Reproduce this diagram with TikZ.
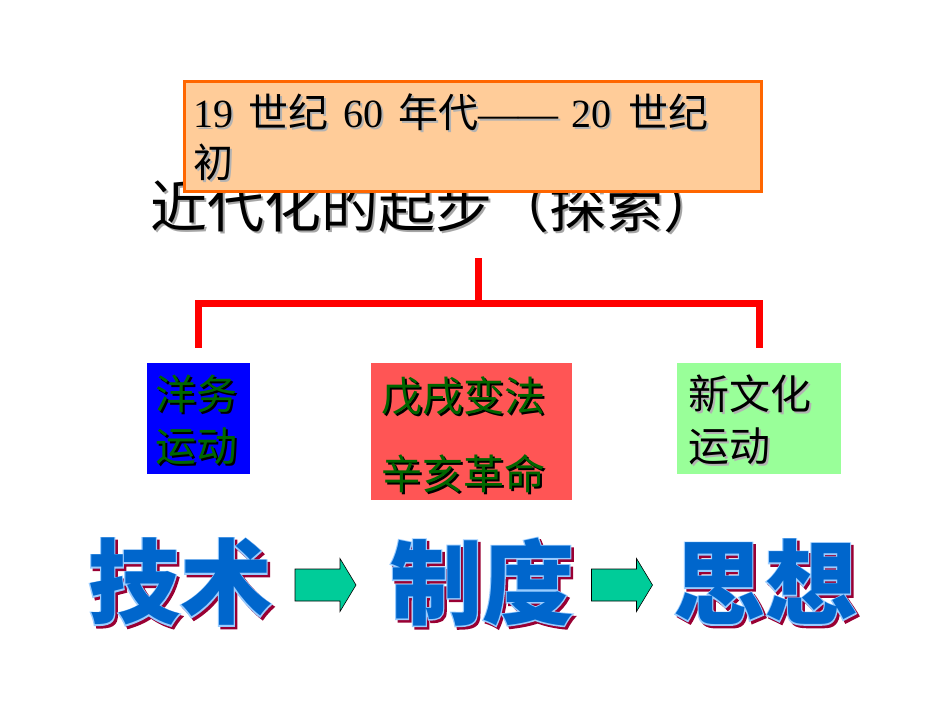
\documentclass[tikz,border=0pt]{standalone}
\usepackage{fontspec}
\setmainfont{Liberation Serif}
\newfontfamily\cjk{Noto Sans CJK SC}
\newfontfamily\cjkol{Noto Sans CJK SC}[FakeBold=2.5]
\usetikzlibrary{positioning}
\definecolor{peach}{HTML}{FFCC99}
\definecolor{edgeorange}{HTML}{FF6600}
\definecolor{boxred}{HTML}{FF5555}
\definecolor{boxgreen}{HTML}{99FF99}
\definecolor{txtgreen}{HTML}{006600}
\definecolor{wblue}{HTML}{0066CC}
\definecolor{wline}{HTML}{99CCFF}
\definecolor{wshade}{HTML}{990033}
\definecolor{arfill}{HTML}{00CC99}
\tikzset{%
   br/.style={
      draw=red,
      line width=7pt
   },
   bx/.style={
      draw=none,
      inner sep=0pt
   },
   ln/.style={
      inner sep=0pt,
      outer sep=0pt,
      anchor=base west
   },
   hd/.style={
      ln,
      font=\cjk\fontsize{57}{62}\selectfont
   },
   era/.style={
      ln,
      font=\fontsize{40}{46}\selectfont
   },
   mv/.style={
      ln,
      font=\cjk\fontsize{41}{48}\selectfont
   },
   big/.style={
      inner sep=0pt,
      font=\cjk\bfseries\fontsize{92}{96}\selectfont
   },
   bigol/.style={
      inner sep=0pt,
      font=\cjkol\bfseries\fontsize{92}{96}\selectfont
   },
   blk/.style={
      draw=black,
      line width=0.6pt,
      fill=arfill,
      line join=miter
   },
}
% text with a soft shadow
\newcommand\shtxt[5]{%
   \node[#2, text=#5] at ([shift={(2pt,-2pt)}]#3) {#4};
   \node[#2] (#1) at (#3) {#4};
}
% outlined word
\newcommand\bigword[3]{%
   \node[bigol, text=wshade] at ([shift={(2.5pt,-2.5pt)}]#2) {#3};
   \node[bigol, text=wline] at (#2) {#3};
   \node[big, text=wblue] (#1) at (#2) {#3};
}
% block arrow round a centre
\newcommand\blkarrow[1]{%
   \draw[blk] (#1) ++(-30.5,-16) -- ++(45,0) -- ++(0,-10.5) -- ++(16,26.5)
      -- ++(-16,26.5) -- ++(0,-10.5) -- ++(-45,0) -- cycle;
}

\begin{document}
\begin{tikzpicture}[x=1pt, y=-1pt]
   \useasboundingbox[fill=white] (0,0) rectangle (950,713);

   % title, partly under the date box
   \coordinate (p0) at (150,227);
   \shtxt{head}{hd}{p0}{近代化的起步（探索）}{black!35}

   % date box
   \node[bx, fill=peach, draw=edgeorange, line width=3pt,
         anchor=north west, minimum width=577pt, minimum height=110pt]
         (datebox) at (183,80) {};
   \coordinate (p1) at (193,127);
   \coordinate (p2) at (193,177);
   \shtxt{date1}{era}{p1}{19\hspace{15pt}{\cjk 世纪}\hspace{15pt}60\hspace{15pt}{\cjk 年代}——\hspace{13pt}20\hspace{17pt}{\cjk 世纪}}{black!30}
   \shtxt{date2}{era}{p2}{{\cjk 初}}{black!30}

   % the three movements
   \node[bx, fill=blue, minimum width=103pt, minimum height=111pt]
         (yang) at (198.5,418.5) {};
   \node[bx, fill=boxred, minimum width=201pt, minimum height=137pt]
         (bian) at (471.5,431.5) {};
   \node[bx, fill=boxgreen, minimum width=164pt, minimum height=111pt]
         (xin) at (759,418.5) {};

   \coordinate (y1) at (155,409);
   \coordinate (y2) at (155,461);
   \shtxt{yang1}{mv, text=txtgreen}{y1}{洋务}{black}
   \shtxt{yang2}{mv, text=txtgreen}{y2}{运动}{black}
   \coordinate (b1) at (381,411);
   \coordinate (b2) at (381,489);
   \shtxt{bian1}{mv, text=txtgreen}{b1}{戊戌变法}{black}
   \shtxt{bian2}{mv, text=txtgreen}{b2}{辛亥革命}{black}
   \coordinate (x1) at (688,409);
   \coordinate (x2) at (688,461);
   \shtxt{xin1}{mv}{x1}{新文化}{black!30}
   \shtxt{xin2}{mv}{x2}{运动}{black!30}

   % red bracket
   \coordinate (top) at (478.5,258);
   \coordinate (j) at (478.5,303.5);
   \draw[br] (top) -- (j);
   \draw[br] ([yshift=15pt]yang.north) |- (j) -| ([yshift=15pt]xin.north);

   % technique -> institutions -> ideas
   \coordinate (w1) at (180,582);
   \coordinate (w2) at (482,582);
   \coordinate (w3) at (765,582);
   \bigword{ji}{w1}{技术}
   \bigword{zhi}{w2}{制度}
   \bigword{si}{w3}{思想}
   \coordinate (ar1) at (325.5,585);
   \coordinate (ar2) at (622,585);
   \blkarrow{ar1}
   \blkarrow{ar2}
\end{tikzpicture}
\end{document}
